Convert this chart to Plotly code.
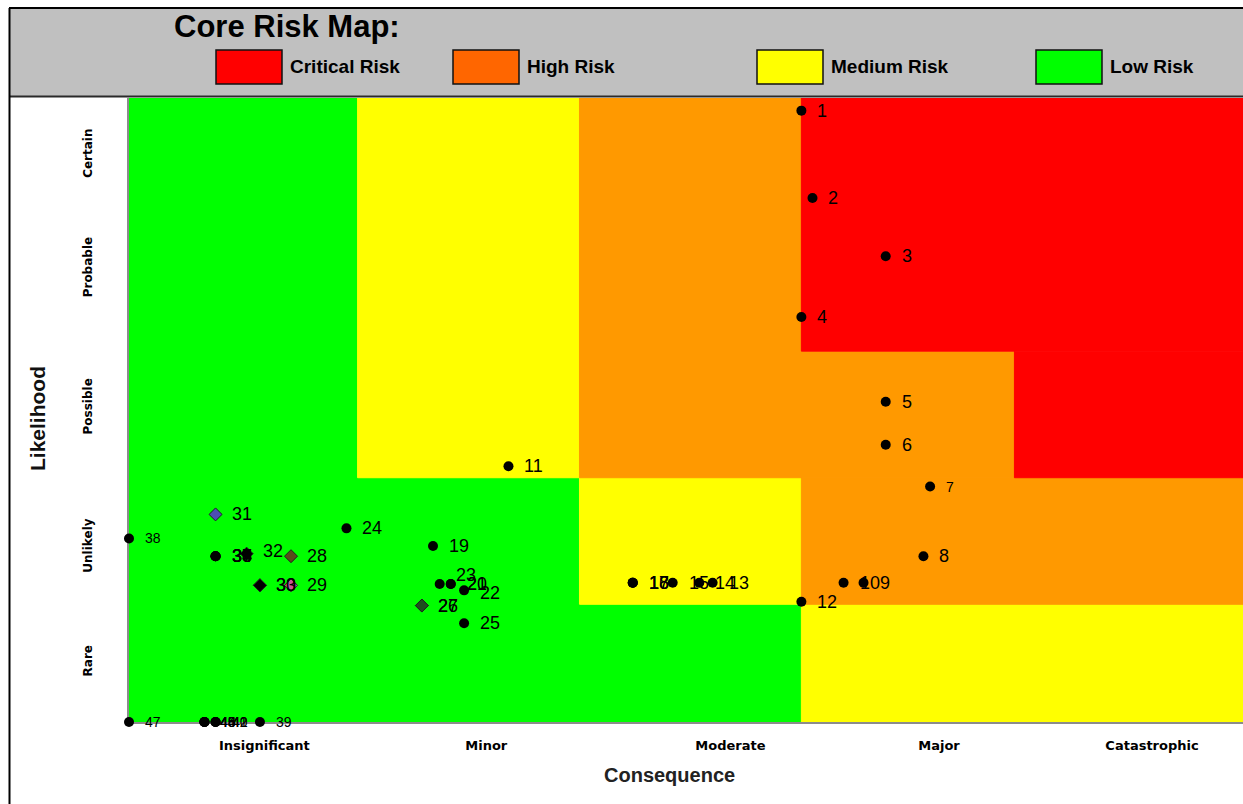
import plotly.graph_objects as go

# ---------------------------------------------------------------
# Risk register: id, consequence score and likelihood score
# ---------------------------------------------------------------
risk_ids = list(range(1, 48))
consequence = [3.00, 3.05, 3.38, 3.00, 3.38, 3.38, 3.58, 3.55, 3.28, 3.19,
               1.68, 3.00, 2.60, 2.54, 2.42, 2.24, 2.24, 2.24, 1.34, 1.42,
               1.42, 1.48, 1.37, 0.95, 1.48, 1.29, 1.29, 0.70, 0.70, 0.56,
               0.36, 0.50, 0.56, 0.36, 0.36, 0.36, 0.36, -0.03, 0.56, 0.36,
               0.36, 0.36, 0.31, 0.31, 0.31, 0.31, -0.03]
likelihood = [4.90, 4.21, 3.75, 3.27, 2.60, 2.26, 1.93, 1.38, 1.17, 1.17,
              2.09, 1.02, 1.17, 1.17, 1.17, 1.17, 1.17, 1.17, 1.46, 1.16,
              1.16, 1.11, 1.16, 1.60, 0.85, 0.99, 0.99, 1.38, 1.15, 1.15,
              1.71, 1.40, 1.15, 1.38, 1.38, 1.38, 1.38, 1.52, 0.07, 0.07,
              0.07, 0.07, 0.07, 0.07, 0.07, 0.07, 0.07]

# Axis categories
consequence_labels = ["Insignificant", "Minor", "Moderate", "Major", "Catastrophic"]
consequence_ticks = [0.58, 1.58, 2.68, 3.62, 4.58]
likelihood_labels = ["Rare", "Unlikely", "Possible", "Probable", "Certain"]
likelihood_ticks = [0.54, 1.45, 2.55, 3.65, 4.55]

X_MIN, X_MAX = -0.03, 4.99
Y_MIN, Y_MAX = 0.07, 5.00

# Risk zones of the heat map: x0, x1, y0, y1, level
zone_x0 = [X_MIN, 1, 2, 1, 2, 3, 2, 3, 3, 3, 3.96]
zone_x1 = [1, 2, 3, 2, 3, X_MAX, 3, X_MAX, 3.96, X_MAX, X_MAX]
zone_y0 = [Y_MIN, Y_MIN, Y_MIN, 2, 1, Y_MIN, 2, 1, 2, 3, 2]
zone_y1 = [Y_MAX, 2, 1, Y_MAX, 2, 1, Y_MAX, 2, 3, Y_MAX, 3]
zone_level = ["Low", "Low", "Low", "Medium", "Medium", "Medium",
              "High", "High", "High", "Critical", "Critical"]

legend_names = ["Critical Risk", "High Risk", "Medium Risk", "Low Risk"]

# ---------------------------------------------------------------
# Styling
# ---------------------------------------------------------------
zone_colors = {"Low": "#00FF00", "Medium": "#FFFF00", "High": "#FF9900", "Critical": "#FF0000"}
legend_colors = ["#FF0000", "#FF6600", "#FFFF00", "#00FF00"]

diamond_colors = {26: "#1E4F1E", 27: "#1E4F1E", 28: "#5A4A1A", 29: "#C8559A",
                  30: "#000000", 31: "#4D4DB3", 32: "#000000", 33: "#000000"}
small_label_ids = {7, 38, 39, 40, 41, 42, 43, 44, 45, 46, 47}
label_yshift = {23: 9, 32: 3, 22: -3}

W, H = 1243, 804
ML, MR, MT, MB = 129, 0, 98, 82
PW, PH = W - ML - MR, H - MT - MB


def fx(px):
    return (px - ML) / PW


def fy(py):
    return (H - MB - py) / PH


label_font = "Liberation Sans, Arial, sans-serif"
tick_font = "DejaVu Sans, Verdana, sans-serif"

fig = go.Figure()

# Points
symbols = ["diamond" if i in diamond_colors else "circle" for i in risk_ids]
colors = [diamond_colors.get(i, "#000000") for i in risk_ids]
line_w = [1 if i in diamond_colors else 0 for i in risk_ids]
fig.add_trace(go.Scatter(
    x=consequence, y=likelihood, mode="markers",
    marker=dict(size=10, symbol=symbols, color=colors,
                line=dict(color="#202020", width=line_w)),
    cliponaxis=False, hoverinfo="skip", showlegend=False,
))

shapes = []
# Risk zones (outlined in their own colour so neighbouring blocks meet without seams)
for x0, x1, y0, y1, lvl in zip(zone_x0, zone_x1, zone_y0, zone_y1, zone_level):
    shapes.append(dict(type="rect", xref="x", yref="y", x0=x0, x1=x1, y0=y0, y1=y1,
                       fillcolor=zone_colors[lvl],
                       line=dict(width=1, color=zone_colors[lvl]), layer="below"))

# Header band and frame
shapes.append(dict(type="rect", xref="paper", yref="paper", x0=fx(9), x1=1.0,
                   y0=fy(97), y1=fy(8), fillcolor="#C0C0C0", line=dict(width=0), layer="below"))
shapes.append(dict(type="line", xref="paper", yref="paper", x0=fx(9), x1=1.0,
                   y0=fy(8), y1=fy(8), line=dict(color="#000000", width=2)))
shapes.append(dict(type="line", xref="paper", yref="paper", x0=fx(9), x1=1.0,
                   y0=fy(96.5), y1=fy(96.5), line=dict(color="#2a2a2a", width=2)))
shapes.append(dict(type="line", xref="paper", yref="paper", x0=fx(9.5), x1=fx(9.5),
                   y0=fy(8), y1=fy(H + 2), line=dict(color="#000000", width=2)))

# Legend swatches
swatch_left = [216, 453, 757, 1036]
for left, col in zip(swatch_left, legend_colors):
    shapes.append(dict(type="rect", xref="paper", yref="paper",
                       x0=fx(left), x1=fx(left + 66), y0=fy(84), y1=fy(50),
                       fillcolor=col, line=dict(color="#111111", width=1.5)))

annotations = []
annotations.append(dict(text="<b>Core Risk Map:</b>", xref="paper", yref="paper",
                        x=fx(172), y=fy(27), xanchor="left", yanchor="middle",
                        showarrow=False, font=dict(family=label_font, size=31, color="#000000")))
for left, name in zip(swatch_left, legend_names):
    annotations.append(dict(text="<b>%s</b>" % name, xref="paper", yref="paper",
                            x=fx(left + 72), y=fy(67), xanchor="left", yanchor="middle",
                            showarrow=False, font=dict(family=label_font, size=19, color="#000000")))

# Axis titles
annotations.append(dict(text="<b>Likelihood</b>", xref="paper", yref="paper",
                        x=fx(37), y=fy(418), xanchor="center", yanchor="middle", textangle=-90,
                        showarrow=False, font=dict(family=label_font, size=21, color="#111111")))
annotations.append(dict(text="<b>Consequence</b>", xref="paper", yref="paper",
                        x=fx(669), y=fy(775), xanchor="center", yanchor="middle",
                        showarrow=False, font=dict(family=label_font, size=20, color="#222222")))

# Point labels
for rid, cx, ly in zip(risk_ids, consequence, likelihood):
    size = 14 if rid in small_label_ids else 18
    annotations.append(dict(text=str(rid), x=cx, y=ly, xref="x", yref="y",
                            xanchor="left", yanchor="middle", xshift=14,
                            yshift=label_yshift.get(rid, 0), showarrow=False,
                            font=dict(family=label_font, size=size, color="#000000")))

fig.update_layout(
    width=W, height=H,
    margin=dict(l=ML, r=MR, t=MT, b=MB, pad=0),
    paper_bgcolor="#FFFFFF", plot_bgcolor="#FFFFFF",
    shapes=shapes, annotations=annotations, showlegend=False,
    xaxis=dict(range=[X_MIN, X_MAX], tickvals=consequence_ticks, ticktext=consequence_labels,
               showgrid=False, zeroline=False, showline=True, linecolor="#8C8C8C", linewidth=2,
               ticks="outside", ticklen=10, tickcolor="rgba(0,0,0,0)", layer="below traces",
               tickfont=dict(family=tick_font, size=13, color="#000000", weight="bold"),
               fixedrange=True),
    yaxis=dict(range=[Y_MIN, Y_MAX], tickvals=likelihood_ticks, ticktext=likelihood_labels,
               showgrid=False, zeroline=False, showline=True, linecolor="#8C8C8C", linewidth=2,
               ticks="outside", ticklen=30, tickcolor="rgba(0,0,0,0)", tickangle=-90,
               layer="below traces",
               tickfont=dict(family=tick_font, size=12, color="#000000", weight="bold"),
               fixedrange=True),
)

fig.write_html("out.html", config={"displayModeBar": False})
